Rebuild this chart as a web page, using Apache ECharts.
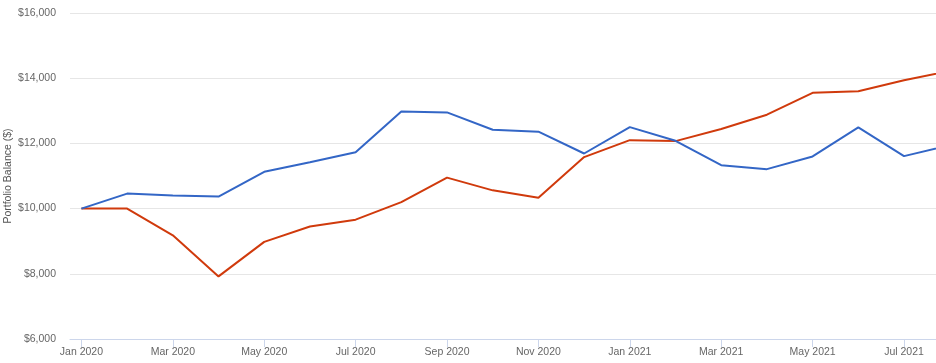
<!DOCTYPE html>
<html>
<head>
<meta charset="utf-8">
<script src="https://cdn.jsdelivr.net/npm/echarts@6/dist/echarts.min.js"></script>
<style>
html,body{margin:0;padding:0;background:#fff;}
#chart{width:936px;height:363px;}
</style>
</head>
<body>
<div id="chart"></div>
<script>
var months = ['Jan 2020','Feb 2020','Mar 2020','Apr 2020','May 2020','Jun 2020','Jul 2020','Aug 2020','Sep 2020','Oct 2020','Nov 2020','Dec 2020','Jan 2021','Feb 2021','Mar 2021','Apr 2021','May 2021','Jun 2021','Jul 2021','Aug 2021'];
var portfolioBlue = [10000, 10460, 10400, 10370, 11130, 11420, 11730, 12980, 12950, 12420, 12360, 11690, 12500, 12080, 11330, 11210, 11600, 12490, 11610, 11940];
var portfolioRed = [10000, 10000, 9180, 7920, 8980, 9450, 9660, 10200, 10950, 10560, 10330, 11580, 12100, 12070, 12440, 12880, 13550, 13600, 13940, 14220];
var tickMonths = [0, 2, 4, 6, 8, 10, 12, 14, 16, 18];
var yTicks = [6000, 8000, 10000, 12000, 14000, 16000];

function pairs(vals) {
  return vals.map(function (v, i) { return [i, v]; });
}
function money(v) {
  return '$' + v.toString().replace(/\B(?=(\d{3})+(?!\d))/g, ',');
}

var chart = echarts.init(document.getElementById('chart'), null, {renderer: 'canvas'});
chart.setOption({
  animation: false,
  backgroundColor: '#ffffff',
  textStyle: {fontFamily: 'Liberation Sans, Arial, sans-serif'},
  grid: {left: 70, right: 0, top: 13, bottom: 24, containLabel: false, outerBoundsMode: 'none'},
  xAxis: {
    type: 'value',
    min: -0.25,
    max: 18.7,
    splitLine: {show: false},
    axisLine: {show: true, onZero: false, lineStyle: {color: '#ccd6eb', width: 1}},
    axisTick: {show: true, customValues: tickMonths, length: 8, lineStyle: {color: '#ccd6eb'}},
    axisLabel: {
      customValues: tickMonths,
      color: '#666666',
      fontSize: 10.5,
      margin: 8,
      formatter: function (v) { return months[Math.round(v)] || ''; }
    }
  },
  yAxis: {
    type: 'value',
    min: 6000,
    max: 16000,
    interval: 2000,
    name: 'Portfolio Balance ($)',
    nameLocation: 'middle',
    nameGap: 56,
    nameMoveOverlap: false,
    nameTextStyle: {color: '#555555', fontSize: 10.5},
    axisLine: {show: false},
    axisTick: {show: false},
    axisLabel: {color: '#666666', fontSize: 10.5, margin: 14, formatter: money},
    splitLine: {show: true, lineStyle: {color: '#e6e6e6', width: 1}}
  },
  series: [
    {
      name: 'Portfolio 1',
      type: 'line',
      data: pairs(portfolioBlue),
      symbol: 'none',
      clip: true,
      lineStyle: {color: '#3366c6', width: 2},
      itemStyle: {color: '#3366c6'},
      z: 3
    },
    {
      name: 'Portfolio 2',
      type: 'line',
      data: pairs(portfolioRed),
      symbol: 'none',
      clip: true,
      lineStyle: {color: '#d03a0c', width: 2},
      itemStyle: {color: '#d03a0c'},
      z: 2
    }
  ]
});
</script>
</body>
</html>
